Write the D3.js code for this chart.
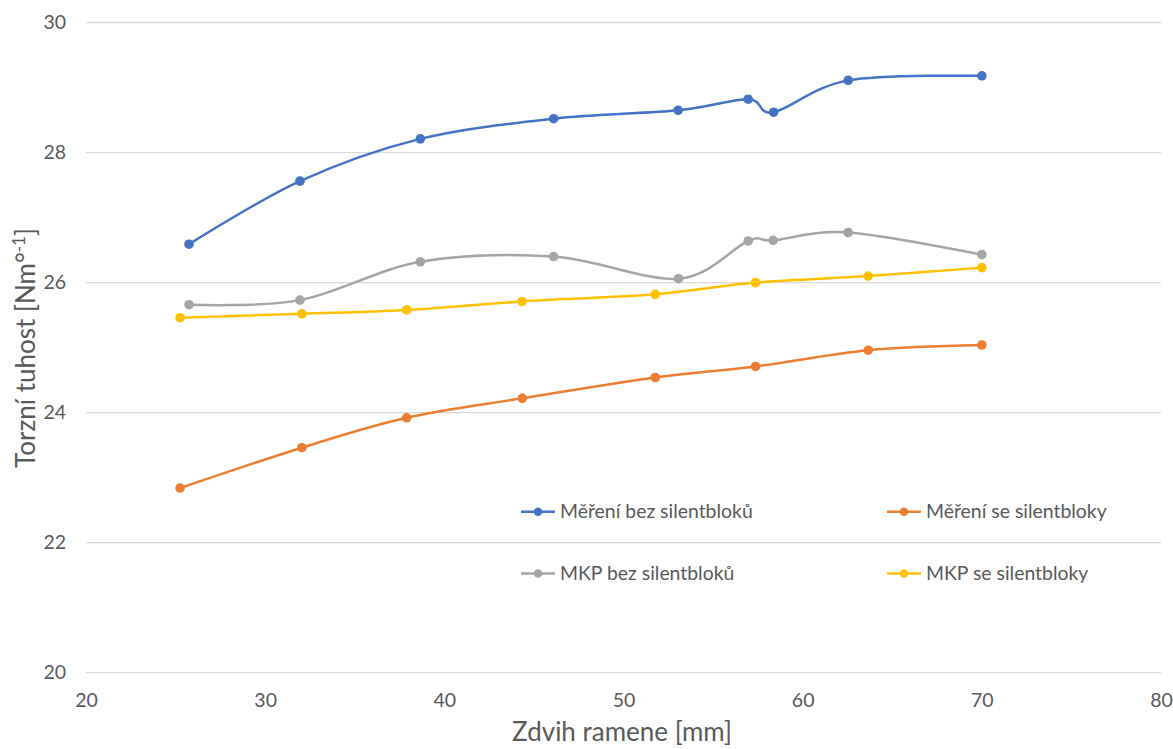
<!DOCTYPE html>
<html>
<head>
<meta charset="utf-8">
<script src="https://cdn.jsdelivr.net/npm/d3@7"></script>
<style>
  html, body { margin: 0; padding: 0; background: #fff; }
  svg { display: block; }
  text { font-family: Lato, "Open Sans", sans-serif; }
</style>
</head>
<body>
<svg id="chart" width="1173" height="749"></svg>
<script>
// ---- data ----
const seriesNames = ["Měření bez silentbloků", "Měření se silentbloky", "MKP bez silentbloků", "MKP se silentbloky"];
const seriesColors = ["#4472C4", "#ED7D31", "#A5A5A5", "#FFC000"];

const xMereniBez = [25.75, 31.94, 38.66, 46.10, 53.05, 56.96, 58.38, 62.54, 70.0];
const yMereniBez = [26.59, 27.56, 28.21, 28.52, 28.65, 28.82, 28.62, 29.11, 29.18];

const xMereniSe = [25.25, 32.05, 37.90, 44.35, 51.77, 57.37, 63.66, 70.0];
const yMereniSe = [22.84, 23.46, 23.92, 24.22, 24.54, 24.71, 24.96, 25.04];

const xMkpBez = [25.75, 31.94, 38.66, 46.10, 53.07, 56.96, 58.35, 62.54, 70.0];
const yMkpBez = [25.66, 25.73, 26.32, 26.40, 26.06, 26.64, 26.65, 26.77, 26.43];

const xMkpSe = [25.25, 32.05, 37.90, 44.33, 51.77, 57.37, 63.66, 70.0];
const yMkpSe = [25.46, 25.52, 25.58, 25.71, 25.82, 26.00, 26.10, 26.23];

const xTicks = [20, 30, 40, 50, 60, 70, 80];
const yTicks = [20, 22, 24, 26, 28, 30];

const xTitle = "Zdvih ramene [mm]";
const yTitleMain = "Torzní tuhost [Nm°";
const yTitleSup = "-1";
const yTitleEnd = "]";

// ---- chart ----
const svg = d3.select("#chart");
const plot = { left: 86, right: 1161, top: 22.5, bottom: 672.7 };

const x = d3.scaleLinear().domain([20, 80]).range([plot.left, plot.right]);
const y = d3.scaleLinear().domain([20, 30]).range([plot.bottom, plot.top]);

// gridlines
svg.append("g").selectAll("line").data(yTicks).join("line")
  .attr("x1", plot.left).attr("x2", plot.right)
  .attr("y1", d => y(d)).attr("y2", d => y(d))
  .attr("stroke", "#d9d9d9").attr("stroke-width", 1.3);

// y axis labels
const yAxis = d3.axisLeft(y).tickValues(yTicks).tickSize(0).tickPadding(20);
const gy = svg.append("g").attr("transform", `translate(${plot.left},0)`).call(yAxis);
gy.select(".domain").remove();
gy.selectAll("text").attr("fill", "#595959").style("font-size", "19.5px")
  .style("font-family", "Lato, sans-serif");

// x axis labels
const xAxis = d3.axisBottom(x).tickValues(xTicks).tickSize(0).tickPadding(20);
const gx = svg.append("g").attr("transform", `translate(0,${plot.bottom})`).call(xAxis);
gx.select(".domain").remove();
gx.selectAll("text").attr("fill", "#595959").style("font-size", "19.5px")
  .style("font-family", "Lato, sans-serif");

// axis titles
svg.append("text")
  .attr("x", 622).attr("y", 741)
  .attr("text-anchor", "middle").attr("fill", "#595959")
  .style("font-size", "26px").text(xTitle);

const yt = svg.append("text")
  .attr("transform", `translate(35, 348) rotate(-90)`)
  .attr("text-anchor", "middle").attr("fill", "#595959")
  .style("font-size", "26px");
yt.append("tspan").text(yTitleMain);
yt.append("tspan").attr("dy", -10).style("font-size", "17px").text(yTitleSup);
yt.append("tspan").attr("dy", 10).text(yTitleEnd);

// series
const seriesX = [xMereniBez, xMereniSe, xMkpBez, xMkpSe];
const seriesY = [yMereniBez, yMereniSe, yMkpBez, yMkpSe];
const series = seriesNames.map((name, i) => ({
  name, color: seriesColors[i],
  pts: seriesX[i].map((xv, j) => [xv, seriesY[i][j]])
}));

const line = d3.line().x(d => x(d[0])).y(d => y(d[1])).curve(d3.curveCardinal.tension(0));

series.forEach(s => {
  const g = svg.append("g");
  g.append("path").attr("d", line(s.pts)).attr("fill", "none")
    .attr("stroke", s.color).attr("stroke-width", 2.5).attr("stroke-linecap", "round");
  g.selectAll("circle").data(s.pts).join("circle")
    .attr("cx", d => x(d[0])).attr("cy", d => y(d[1])).attr("r", 4.8)
    .attr("fill", s.color);
});

// legend
const legendPos = [[521, 511.7], [887, 511.7], [521, 573.5], [887, 573.5]];
series.forEach((s, i) => {
  const [lx, ly] = legendPos[i];
  const g = svg.append("g").attr("transform", `translate(${lx},${ly})`);
  g.append("line").attr("x1", 0).attr("x2", 34).attr("y1", 0).attr("y2", 0)
    .attr("stroke", s.color).attr("stroke-width", 2.5);
  g.append("circle").attr("cx", 17).attr("cy", 0).attr("r", 4.2).attr("fill", s.color);
  g.append("text").attr("x", 39).attr("y", 0).attr("dy", "0.35em")
    .attr("fill", "#595959").style("font-size", "19.4px").text(s.name);
});
</script>
</body>
</html>
